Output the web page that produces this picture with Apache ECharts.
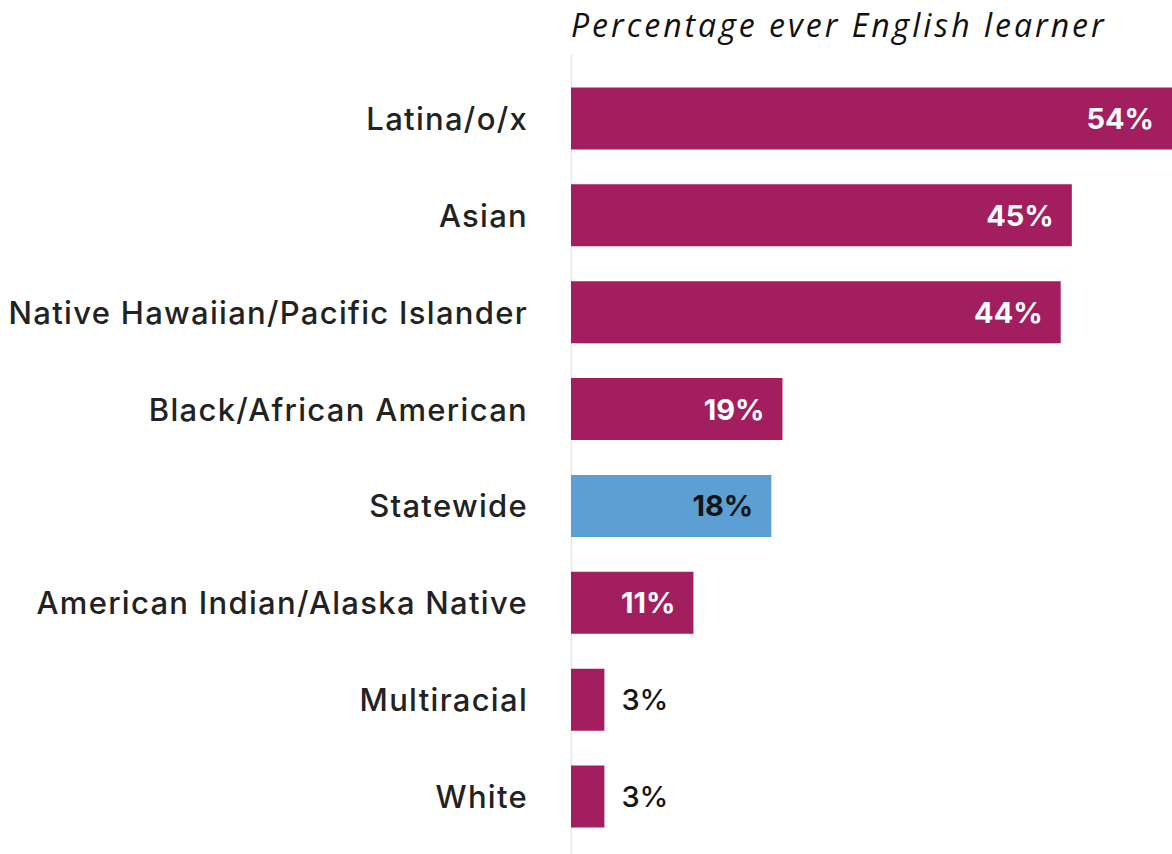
<!DOCTYPE html>
<html><head><meta charset="utf-8">
<script src="https://cdn.jsdelivr.net/npm/echarts@6/dist/echarts.min.js"></script>
<style>html,body{margin:0;padding:0;background:#fff}#c{width:1172px;height:854px}</style>
</head><body><div id="c"></div>
<script>
const categories = ["Latina/o/x","Asian","Native Hawaiian/Pacific Islander","Black/African American","Statewide","American Indian/Alaska Native","Multiracial","White"];
const values = [54,45,44,19,18,11,3,3];
const highlight = "Statewide";
const titleText = "Percentage ever English learner";

const magenta = "#A21E5E", blue = "#5B9FD4";
const data = values.map((v,i)=>{
  const isState = categories[i]===highlight;
  const small = v < 8;
  return {
    value: v,
    itemStyle: {color: isState ? blue : magenta},
    label: {
      position: small ? 'right' : 'insideRight',
      distance: small ? 17 : 18,
      color: (isState || small) ? '#151515' : '#ffffff',
      fontWeight: small ? 500 : 'bold'
    }
  };
});

const chart = echarts.init(document.getElementById('c'), null, {renderer:'svg'});
chart.setOption({
  animation:false,
  title:{text:titleText,left:571,top:8,padding:0,textStyle:{fontFamily:'Open Sans',fontStyle:'italic',fontWeight:'normal',fontSize:32,color:'#111'}},
  grid:{left:571,right:0,top:70,bottom:9,containLabel:false},
  xAxis:{type:'value',min:0,max:54,show:false},
  yAxis:{type:'category',data:categories,inverse:true,
    axisLine:{show:false},axisTick:{show:false},
    axisLabel:{margin:43,fontFamily:'Inter',fontSize:31,fontWeight:500,color:'#222'}},
  graphic:[{type:'line',shape:{x1:571.5,y1:55,x2:571.5,y2:854},style:{stroke:'#e6e6e6',lineWidth:1.5},z:0}],
  series:[{type:'bar',data:data,barWidth:'64%',z:2,
    label:{show:true,formatter:'{c}%',fontFamily:'Inter',fontSize:29}}]
});
document.querySelectorAll('#c svg text').forEach(t=>{
  if (t.textContent === titleText) t.style.letterSpacing = '3px';
  else if (categories.indexOf(t.textContent) >= 0) t.style.letterSpacing = '1.3px';
});
</script></body></html>
